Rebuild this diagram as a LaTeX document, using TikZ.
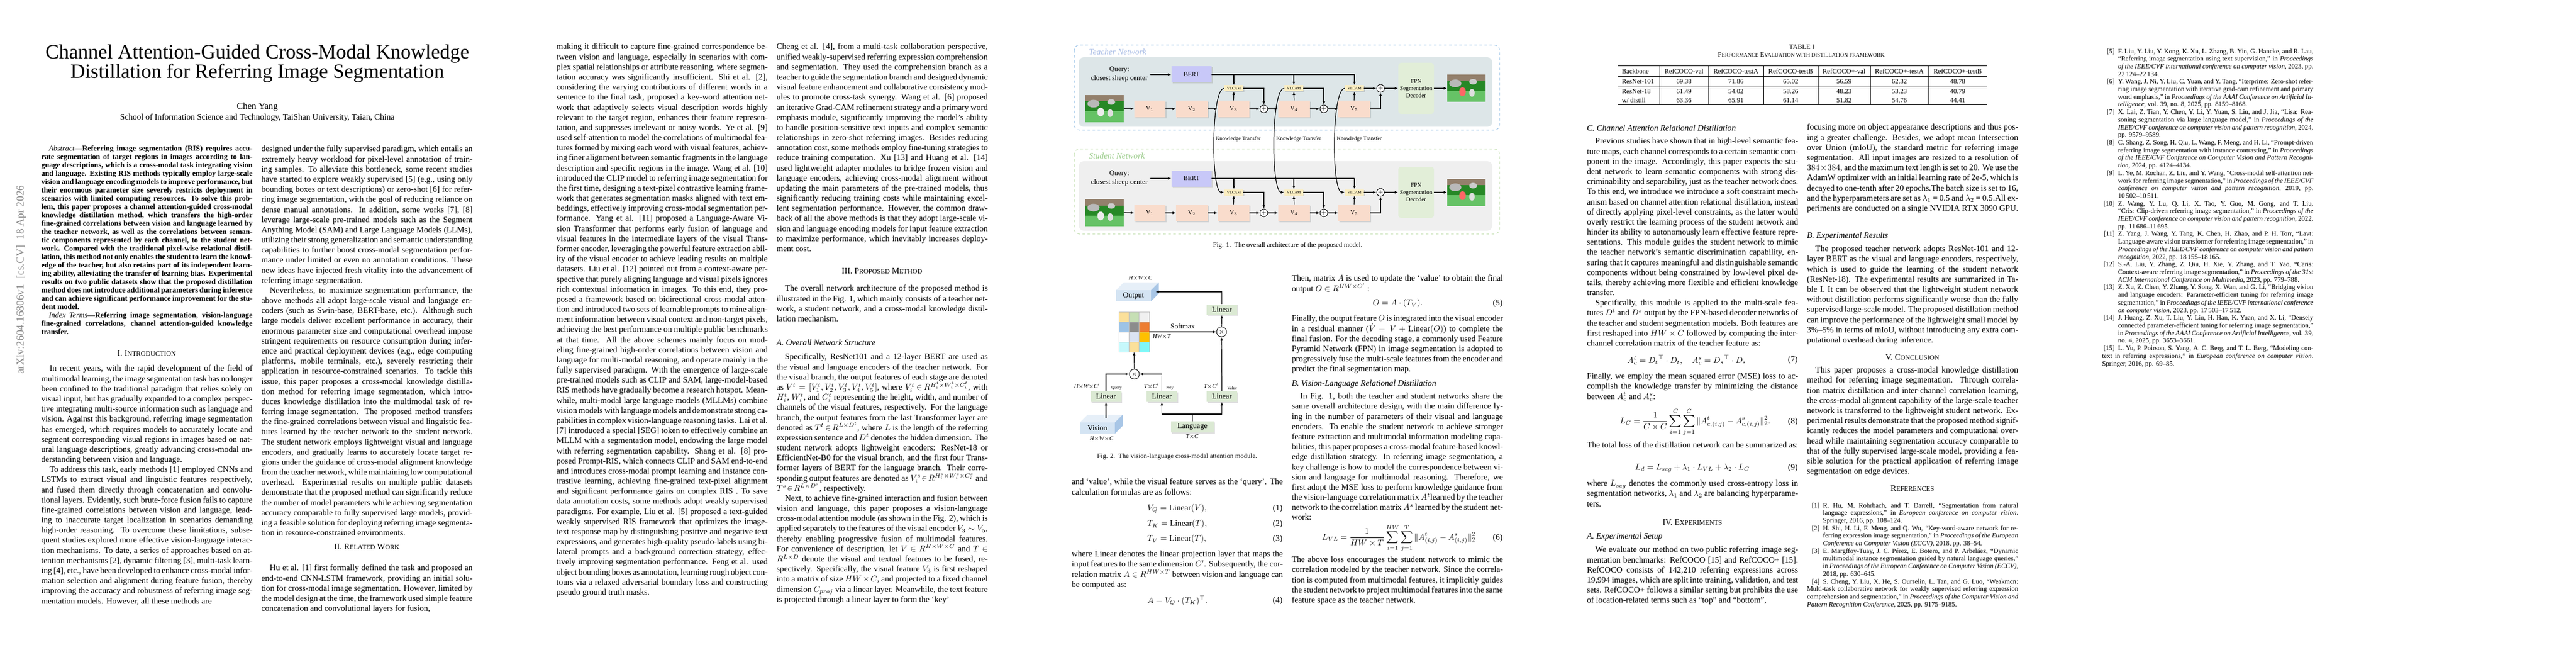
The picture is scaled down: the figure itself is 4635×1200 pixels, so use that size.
\documentclass[tikz,border=0pt]{standalone}
\usepackage{amsmath}
\usepackage{fontspec}
\setmainfont{Liberation Serif}
\usetikzlibrary{arrows.meta,shadows,calc}
\definecolor{tframe}{HTML}{9EC5E8}
\definecolor{tpanel}{HTML}{DDE6E8}
\definecolor{sframe}{HTML}{C9E2B8}
\definecolor{spanel}{HTML}{EFEFEF}
\definecolor{bertc}{HTML}{C8C8F8}
\definecolor{vboxc}{HTML}{F9DCCC}
\definecolor{vlcamc}{HTML}{FBEEC2}
\definecolor{fpnc}{HTML}{E2EED8}
\definecolor{linc}{HTML}{DBE9D3}
\definecolor{cfront}{HTML}{D4E4F3}
\definecolor{cside}{HTML}{A8C6E6}
\definecolor{ctop}{HTML}{E6EFF8}
\definecolor{tlabel}{HTML}{A9BDE6}
\definecolor{slabel}{HTML}{9CCC8C}
\def\u{0.6602pt}
\newcommand\np{\par\hspace*{1em}}
\newcommand\ssc[1]{{\fontsize{8}{12}\selectfont #1}}
\newcommand\rsc[1]{{\fontsize{6.4}{9}\selectfont #1}}
\newcommand\rf[2]{\par\noindent\hangindent=19pt\hangafter=1\makebox[19pt][l]{\hfill[#1]\hspace{4pt}}#2}
\tikzset{
 txt/.style={anchor=north west, inner sep=0pt, text width=250.9pt, align=justify, font=\fontsize{10}{12}\selectfont},
 abst/.style={txt, font=\fontsize{9}{9.9}\selectfont\bfseries},
 reft/.style={txt, font=\fontsize{8}{9.05}\selectfont},
 hd/.style={inner sep=0pt, font=\fontsize{10}{12}\selectfont},
 sub/.style={anchor=west, inner sep=0pt, font=\fontsize{10}{12}\selectfont\itshape},
 eqn/.style={anchor=west, inner sep=0pt, font=\fontsize{10}{12}\selectfont},
 eqc/.style={inner sep=0pt, font=\fontsize{10}{12}\selectfont},
 eqnum/.style={anchor=east, inner sep=0pt, font=\fontsize{10}{12}\selectfont},
 captxt/.style={inner sep=0pt, font=\fontsize{8}{10}\selectfont},
 arr/.style={-{Latex[length=4pt,width=3.2pt]}, line width=0.8pt},
 ln/.style={line width=0.8pt},
 shad/.style={drop shadow={opacity=0.25, shadow xshift=1.2pt, shadow yshift=-1.2pt}},
 vb/.style={fill=vboxc, shad, inner sep=0pt, font=\fontsize{7}{8}\selectfont},
 vl/.style={fill=vlcamc, shad, inner sep=0pt, font=\fontsize{4.5}{5}\selectfont},
 bb/.style={fill=bertc, shad, inner sep=0pt, font=\fontsize{7.5}{8}\selectfont},
 pl/.style={circle, draw, line width=0.6pt, fill=white, inner sep=0pt, minimum size=14*\u, font=\fontsize{7}{7}\selectfont},
 lin/.style={fill=linc, shad, inner sep=0pt, minimum width=55*\u, minimum height=19*\u, font=\fontsize{9}{10}\selectfont},
 dimt/.style={inner sep=0pt, font=\fontsize{7}{8}\selectfont\itshape},
 tinyt/.style={inner sep=0pt, font=\fontsize{5}{6}\selectfont},
 kt/.style={inner sep=0pt, anchor=west, font=\fontsize{6.5}{7}\selectfont},
}
\newcommand\sheep[3]{% cx, cy, colour of lamb
 \begin{scope}[shift={(#1,#2)}]
 \fill[green!45!black!85] (-34.5,-24.5) rectangle (34.5,24.5);
 \fill[gray!70!brown] (-34.5,-24.5) rectangle (34.5,-13);
 \fill[green!60!black!60] (-34.5,5) rectangle (34.5,24.5);
 \fill[gray!55] (-20,-9) ellipse (11 and 7);
 \fill[gray!40] (12,-12) ellipse (7 and 5);
 \fill[#3] (-7,6) ellipse (6 and 8);
 \fill[gray!25] (10,8) ellipse (5 and 7);
 \end{scope}}
\newcommand\netw[1]{% prefix
 \node[font=\fontsize{8.5}{10.5}\selectfont, align=center, inner sep=0pt] (#1q) at (2014,134) {Query:\\closest sheep center};
 \node[bb, minimum width=72*\u, minimum height=29*\u] (#1bert) at (2144,134) {BERT};
 \draw[arr] ([xshift=3pt]#1q.east) -- (#1bert.west);
 \node[minimum width=69*\u, minimum height=49*\u, inner sep=0pt] (#1img) at (1987.5,195.5) {};
 \sheep{1987.5}{195.5}{gray!15}
 \node[vb, minimum width=56*\u, minimum height=30*\u] (#1v1) at (2069,196) {V$_1$};
 \node[vb, minimum width=57*\u, minimum height=30*\u] (#1v2) at (2144.5,196) {V$_2$};
 \node[vb, minimum width=57*\u, minimum height=30*\u] (#1v3) at (2219.5,196) {V$_3$};
 \node[vb, minimum width=57*\u, minimum height=30*\u] (#1v4) at (2328.5,196) {V$_4$};
 \node[vb, minimum width=57*\u, minimum height=30*\u] (#1v5) at (2436.5,196) {V$_5$};
 \node[pl] (#1p1) at (2274,196) {$+$};
 \node[pl] (#1p2) at (2382,196) {$+$};
 \node[pl] (#1p3) at (2484,159) {$+$};
 \node[vl, minimum width=34*\u, minimum height=11*\u] (#1c1) at (2220,159) {VLCAM};
 \node[vl, minimum width=34*\u, minimum height=11*\u] (#1c2) at (2328,159) {VLCAM};
 \node[vl, minimum width=34*\u, minimum height=11*\u] (#1c3) at (2437,159) {VLCAM};
 \node[fill=fpnc, rounded corners=3pt, minimum width=64*\u, minimum height=92*\u, inner sep=0pt, align=center, font=\fontsize{7}{8.4}\selectfont] (#1fpn) at (2548,159) {FPN\\Segmentation\\Decoder};
 \node[minimum width=69*\u, minimum height=48*\u, inner sep=0pt] (#1out) at (2638.5,159) {};
 \sheep{2638.5}{159}{red!60}
 \draw[arr] (#1img.east) -- (#1v1.west);
 \draw[arr] (#1v1.east) -- (#1v2.west);
 \draw[arr] (#1v2.east) -- (#1v3.west);
 \draw[arr] (#1v3.east) -- (#1p1.west);
 \draw[arr] (#1p1.east) -- (#1v4.west);
 \draw[arr] (#1v4.east) -- (#1p2.west);
 \draw[arr] (#1p2.east) -- (#1v5.west);
 \draw[arr] (#1v5.east) -| (#1p3.south);
 \draw[arr] (#1v3.north) -- (#1c1.south);
 \draw[arr] (#1v4.north) -- (#1c2.south);
 \draw[arr] (#1v5.north) -- (#1c3.south);
 \draw[arr] (#1c1.east) -| (#1p1.north);
 \draw[arr] (#1c2.east) -| (#1p2.north);
 \draw[arr] (#1c3.east) -- (#1p3.west);
 \draw[arr] (#1p3.east) -- (#1fpn.west);
 \draw[arr] (#1fpn.east) -- (#1out.west);
 \coordinate (#1bj) at (2437,134);
 \draw[ln] (#1bert.east) -- (#1bj);
 \draw[arr] (#1bj) -- (#1c3.north);
 \draw[arr] (#1c1.north |- #1bj) -- (#1c1.north);
 \draw[arr] (#1c2.north |- #1bj) -- (#1c2.north);
}
\begin{document}
\begin{tikzpicture}[x=0.6602pt, y=-0.6602pt]
\fill[white] (0,0) rectangle (4635,1200);
\useasboundingbox (0,0) rectangle (4635,1200);

% ================= PAGE 1 =================
\node[rotate=90, text=black!45, inner sep=0pt] (arxiv) at (38,503) {\resizebox{224pt}{!}{\fontsize{20}{20}\selectfont arXiv:2604.16806v1\ \ [cs.CV]\ \ 18 Apr 2026}};
\node[inner sep=0pt, font=\fontsize{24}{23}\selectfont, align=center] (title) at (463,114.5) {Channel Attention-Guided Cross-Modal Knowledge\\Distillation for Referring Image Segmentation};
\node[inner sep=0pt, font=\fontsize{11}{12}\selectfont] (author) at (463,193) {Chen Yang};
\node[inner sep=0pt, font=\fontsize{10}{12}\selectfont] (affil) at (463,212) {School of Information Science and Technology, TaiShan University, Taian, China};

\node[abst] (p1a) at (74,262) {\hspace*{1em}{\mdseries\itshape Abstract}---Referring image segmentation (RIS) requires accurate segmentation of target regions in images according to language descriptions, which is a cross-modal task integrating vision and language. Existing RIS methods typically employ large-scale vision and language encoding models to improve performance, but their enormous parameter size severely restricts deployment in scenarios with limited computing resources. To solve this problem, this paper proposes a channel attention-guided cross-modal knowledge distillation method, which transfers the high-order fine-grained correlations between vision and language learned by the teacher network, as well as the correlations between semantic components represented by each channel, to the student network. Compared with the traditional pixel-wise relational distillation, this method not only enables the student to learn the knowledge of the teacher, but also retains part of its independent learning ability, alleviating the transfer of learning bias. Experimental results on two public datasets show that the proposed distillation method does not introduce additional parameters during inference and can achieve significant performance improvement for the student model.\np{\mdseries\itshape Index Terms}---Referring image segmentation, vision-language fine-grained correlations, channel attention-guided knowledge transfer.};
\node[hd] (h1) at (264,636) {I. I\ssc{NTRODUCTION}};
\node[txt] (p1b) at (74,657) {\hspace*{1em}In recent years, with the rapid development of the field of multimodal learning, the image segmentation task has no longer been confined to the traditional paradigm that relies solely on visual input, but has gradually expanded to a complex perspective integrating multi-source information such as language and vision. Against this background, referring image segmentation has emerged, which requires models to accurately locate and segment corresponding visual regions in images based on natural language descriptions, greatly advancing cross-modal understanding between vision and language.\np To address this task, early methods [1] employed CNNs and LSTMs to extract visual and linguistic features respectively, and fused them directly through concatenation and convolutional layers. Evidently, such brute-force fusion fails to capture fine-grained correlations between vision and language, leading to inaccurate target localization in scenarios demanding high-order reasoning. To overcome these limitations, subsequent studies explored more effective vision-language interaction mechanisms. To date, a series of approaches based on attention mechanisms [2], dynamic filtering [3], multi-task learning [4], etc., have been developed to enhance cross-modal information selection and alignment during feature fusion, thereby improving the accuracy and robustness of referring image segmentation models. However, all these methods are};
\node[txt] (p1c) at (470,262) {designed under the fully supervised paradigm, which entails an extremely heavy workload for pixel-level annotation of training samples. To alleviate this bottleneck, some recent studies have started to explore weakly supervised [5] (e.g., using only bounding boxes or text descriptions) or zero-shot [6] for referring image segmentation, with the goal of reducing reliance on dense manual annotations. In addition, some works [7], [8] leverage large-scale pre-trained models such as the Segment Anything Model (SAM) and Large Language Models (LLMs), utilizing their strong generalization and semantic understanding capabilities to further boost cross-modal segmentation performance under limited or even no annotation conditions. These new ideas have injected fresh vitality into the advancement of referring image segmentation.\np Nevertheless, to maximize segmentation performance, the above methods all adopt large-scale visual and language encoders (such as Swin-base, BERT-base, etc.). Although such large models deliver excellent performance in accuracy, their enormous parameter size and computational overhead impose stringent requirements on resource consumption during inference and practical deployment devices (e.g., edge computing platforms, mobile terminals, etc.), severely restricting their application in resource-constrained scenarios. To tackle this issue, this paper proposes a cross-modal knowledge distillation method for referring image segmentation, which introduces knowledge distillation into the multimodal task of referring image segmentation. The proposed method transfers the fine-grained correlations between visual and linguistic features learned by the teacher network to the student network. The student network employs lightweight visual and language encoders, and gradually learns to accurately locate target regions under the guidance of cross-modal alignment knowledge from the teacher network, while maintaining low computational overhead. Experimental results on multiple public datasets demonstrate that the proposed method can significantly reduce the number of model parameters while achieving segmentation accuracy comparable to fully supervised large models, providing a feasible solution for deploying referring image segmentation in resource-constrained environments.};
\node[hd] (h2) at (660,984) {II. R\ssc{ELATED} W\ssc{ORK}};
\node[txt] (p1d) at (470,1016) {\hspace*{1em}Hu et al. [1] first formally defined the task and proposed an end-to-end CNN-LSTM framework, providing an initial solution for cross-modal image segmentation. However, limited by the model design at the time, the framework used simple feature concatenation and convolutional layers for fusion,};

% ================= PAGE 2 =================
\node[txt] (p2a) at (1001,78) {making it difficult to capture fine-grained correspondence between vision and language, especially in scenarios with complex spatial relationships or attribute reasoning, where segmentation accuracy was significantly insufficient. Shi et al. [2], considering the varying contributions of different words in a sentence to the final task, proposed a key-word attention network that adaptively selects visual description words highly relevant to the target region, enhances their feature representation, and suppresses irrelevant or noisy words. Ye et al. [9] used self-attention to model the correlations of multimodal features formed by mixing each word with visual features, achieving finer alignment between semantic fragments in the language description and specific regions in the image. Wang et al. [10] introduced the CLIP model to referring image segmentation for the first time, designing a text-pixel contrastive learning framework that generates segmentation masks aligned with text embeddings, effectively improving cross-modal segmentation performance. Yang et al. [11] proposed a Language-Aware Vision Transformer that performs early fusion of language and visual features in the intermediate layers of the visual Transformer encoder, leveraging the powerful feature extraction ability of the visual encoder to achieve leading results on multiple datasets. Liu et al. [12] pointed out from a context-aware perspective that purely aligning language and visual pixels ignores rich contextual information in images. To this end, they proposed a framework based on bidirectional cross-modal attention and introduced two sets of learnable prompts to mine alignment information between visual context and non-target pixels, achieving the best performance on multiple public benchmarks at that time. All the above schemes mainly focus on modeling fine-grained high-order correlations between vision and language for multi-modal reasoning, and operate mainly in the fully supervised paradigm. With the emergence of large-scale pre-trained models such as CLIP and SAM, large-model-based RIS methods have gradually become a research hotspot. Meanwhile, multi-modal large language models (MLLMs) combine vision models with language models and demonstrate strong capabilities in complex vision-language reasoning tasks. Lai et al. [7] introduced a special [SEG] token to effectively combine an MLLM with a segmentation model, endowing the large model with referring segmentation capability. Shang et al. [8] proposed Prompt-RIS, which connects CLIP and SAM end-to-end and introduces cross-modal prompt learning and instance contrastive learning, achieving fine-grained text-pixel alignment and significant performance gains on complex RIS . To save data annotation costs, some methods adopt weakly supervised paradigms. For example, Liu et al. [5] proposed a text-guided weakly supervised RIS framework that optimizes the image-text response map by distinguishing positive and negative text expressions, and generates high-quality pseudo-labels using bilateral prompts and a background correction strategy, effectively improving segmentation performance. Feng et al. used object bounding boxes as annotation, learning rough object contours via a relaxed adversarial boundary loss and constructing pseudo ground truth masks.};
\node[txt] (p2b) at (1397,78) {Cheng et al. [4], from a multi-task collaboration perspective, unified weakly-supervised referring expression comprehension and segmentation. They used the comprehension branch as a teacher to guide the segmentation branch and designed dynamic visual feature enhancement and collaborative consistency modules to promote cross-task synergy. Wang et al. [6] proposed an iterative Grad-CAM refinement strategy and a primary word emphasis module, significantly improving the model's ability to handle position-sensitive text inputs and complex semantic relationships in zero-shot referring images. Besides reducing annotation cost, some methods employ fine-tuning strategies to reduce training computation. Xu [13] and Huang et al. [14] used lightweight adapter modules to bridge frozen vision and language encoders, achieving cross-modal alignment without updating the main parameters of the pre-trained models, thus significantly reducing training costs while maintaining excellent segmentation performance. However, the common drawback of all the above methods is that they adopt large-scale vision and language encoding models for input feature extraction to maximize performance, which inevitably increases deployment cost.};
\node[hd] (h3) at (1587,488) {III. P\ssc{ROPOSED} M\ssc{ETHOD}};
\node[txt] (p2c) at (1397,513) {\hspace*{1em}The overall network architecture of the proposed method is illustrated in the Fig. 1, which mainly consists of a teacher network, a student network, and a cross-modal knowledge distillation mechanism.};
\node[sub] (s3a) at (1397,616) {A. Overall Network Structure};
\node[txt] (p2d) at (1397,636) {\hspace*{1em}Specifically, ResNet101 and a 12-layer BERT are used as the visual and language encoders of the teacher network. For the visual branch, the output features of each stage are denoted as $V^t=[V_1^t,V_2^t,V_3^t,V_4^t,V_5^t]$, where $V_i^t\!\in\! R^{H_i^t\times W_i^t\times C_i^t}$, with $H_i^t$, $W_i^t$, and $C_i^t$ representing the height, width, and number of channels of the visual features, respectively. For the language branch, the output features from the last Transformer layer are denoted as $T^t\!\in\! R^{L\times D^t}$, where $L$ is the length of the referring expression sentence and $D^t$ denotes the hidden dimension. The student network adopts lightweight encoders: ResNet-18 or EfficientNet-B0 for the visual branch, and the first four Transformer layers of BERT for the language branch. Their corresponding output features are denoted as $V_i^s\!\in\! R^{H_i^s\times W_i^s\times C_i^s}$ and $T^s\!\in\! R^{L\times D^s}$, respectively.\np Next, to achieve fine-grained interaction and fusion between vision and language, this paper proposes a vision-language cross-modal attention module (as shown in the Fig. 2), which is applied separately to the features of the visual encoder $V_3\sim V_5$, thereby enabling progressive fusion of multimodal features. For convenience of description, let $V\!\in\! R^{H\times W\times C}$ and $T\!\in\! R^{L\times D}$ denote the visual and textual features to be fused, respectively. Specifically, the visual feature $V_3$ is first reshaped into a matrix of size $HW\times C$, and projected to a fixed channel dimension $C_{proj}$ via a linear layer. Meanwhile, the text feature is projected through a linear layer to form the `key'};

% ================= PAGE 3 : Fig. 1 =================
\draw[tframe, dashed, line width=0.7pt, rounded corners=6pt] (1933,81) rectangle (2698,234);
\fill[tpanel, rounded corners=6pt] (1941,103) rectangle (2685,228);
\node[anchor=west, inner sep=0pt, text=tlabel, font=\fontsize{10}{11}\selectfont\itshape] (tlab) at (1959,93) {Teacher Network};
\draw[sframe, dashed, line width=0.7pt, rounded corners=6pt] (1933,268) rectangle (2698,421);
\fill[spanel, rounded corners=6pt] (1941,290) rectangle (2685,415);
\node[anchor=west, inner sep=0pt, text=slabel, font=\fontsize{10}{11}\selectfont\itshape] (slab) at (1959,280) {Student Network};
\netw{t}
\begin{scope}[yshift=-123.46pt]
\netw{s}
\end{scope}
\draw[arr] (tc1.west) to[out=180, in=180, looseness=0.33] (sc1.west);
\draw[arr] (tc2.west) to[out=180, in=180, looseness=0.33] (sc2.west);
\draw[arr] (tc3.west) to[out=180, in=180, looseness=0.33] (sc3.west);
\node[kt] (kt1) at (2187,250) {Knowledge Transfer};
\node[kt] (kt2) at (2296,250) {Knowledge Transfer};
\node[kt] (kt3) at (2405,250) {Knowledge Transfer};
\node[captxt] (fig1cap) at (2317,442) {Fig. 1.\ \ The overall architecture of the proposed model.};

% ================= PAGE 3 : Fig. 2 =================
\fill[ctop] (2008,522) -- (2022,508) -- (2085,508) -- (2071,522) -- cycle;
\fill[cside] (2071,522) -- (2085,508) -- (2085,528) -- (2071,542) -- cycle;
\node[fill=cfront, minimum width=63*\u, minimum height=20*\u, inner sep=0pt, font=\fontsize{9}{10}\selectfont] (outp) at (2039.5,532) {Output};
\node[dimt] (d1) at (2052,501) {H$\times$W$\times$C};
\node[minimum width=55*\u, minimum height=72*\u, inner sep=0pt] (mat) at (2040.5,597) {};
\foreach \c [count=\i from 0] in {FBE09A,C6DFB4,F0F0F0,9DC3E6,8C8C8C,ED7D31,FFFFFF,DAE3F3,FFC000,C6F8FB,FBE09A,7FF7F7}{
  \pgfmathtruncatemacro\cc{mod(\i,3)}
  \pgfmathtruncatemacro\rr{int(\i/3)}
  \definecolor{cellc}{HTML}{\c}
  \fill[cellc, draw=black!25, line width=0.3pt] ({2013+\cc*18.33},{561+\rr*18}) rectangle ++(18.33,18);
}
\node[lin] (lin4) at (2198.5,557) {Linear};
\node[pl, minimum size=18*\u, font=\fontsize{8}{8}\selectfont] (m2) at (2198,597) {$\times$};
\node[pl, minimum size=18*\u, font=\fontsize{8}{8}\selectfont] (m1) at (2041,673) {$\times$};
\node[lin] (linq) at (1990,713.5) {Linear};
\node[lin] (link) at (2090.5,713.5) {Linear};
\node[lin] (linv) at (2198.5,713.5) {Linear};
\fill[ctop] (1943,760) -- (1957,746) -- (2020,746) -- (2006,760) -- cycle;
\fill[cside] (2006,760) -- (2020,746) -- (2020,766) -- (2006,780) -- cycle;
\node[fill=cfront, minimum width=63*\u, minimum height=20*\u, inner sep=0pt, font=\fontsize{9}{10}\selectfont] (vis) at (1974.5,770) {Vision};
\node[dimt] (d2) at (1982,790) {H$\times$W$\times$C};
\node[lin, minimum width=77*\u, minimum height=20*\u] (lang) at (2145.5,768) {Language};
\node[dimt] (d3) at (2145,786) {T$\times$C};
\node[inner sep=0pt, font=\fontsize{8.5}{9}\selectfont] (smx) at (2128,587) {Softmax};
\node[dimt] (d4) at (2090,606) {HW$\times$T};
\node[dimt] (d5) at (1956,695) {H$\times$W$\times$C$'$};
\node[tinyt] (q1) at (2009,698) {Query};
\node[dimt] (d6) at (2072,695) {T$\times$C$'$};
\node[tinyt] (k1) at (2105,698) {Key};
\node[dimt] (d7) at (2179,695) {T$\times$C$'$};
\node[tinyt] (v1) at (2217,698) {Value};
\coordinate (outside) at (2079,525);
\coordinate (vistop) at (1990,752);
\coordinate (lj) at (2145.5,745);
\draw[arr] (lin4.north) |- (outside);
\draw[arr] (m2.north) -- (lin4.south);
\draw[arr] (mat.east) -- (m2.west);
\draw[arr] (linv.north) -- (m2.south);
\draw[arr] (m1.north) -- (mat.south);
\draw[arr] (linq.north) |- (m1.west);
\draw[arr] (link.north) |- (m1.east);
\draw[arr] (vistop) -- (linq.south);
\draw[ln] (lang.north) -- (lj);
\draw[arr] (lj) -| (link.south);
\draw[arr] (lj) -| (linv.south);
\node[captxt] (fig2cap) at (2118,822) {Fig. 2.\ \ The vision-language cross-modal attention module.};

% ================= PAGE 3 text =================
\node[txt] (p3a) at (1928,861) {and `value', while the visual feature serves as the `query'. The calculation formulas are as follows:};
\node[eqn] (e1) at (2064,915) {$V_Q=\mathrm{Linear}(V),$};
\node[eqnum] (n1) at (2308,915) {(1)};
\node[eqn] (e2) at (2064,943) {$T_K=\mathrm{Linear}(T),$};
\node[eqnum] (n2) at (2308,943) {(2)};
\node[eqn] (e3) at (2064,970) {$T_V=\mathrm{Linear}(T),$};
\node[eqnum] (n3) at (2308,970) {(3)};
\node[txt] (p3b) at (1928,991) {where Linear denotes the linear projection layer that maps the input features to the same dimension $C'$. Subsequently, the correlation matrix $A\in R^{HW\times T}$ between vision and language can be computed as:};
\node[eqn] (e4) at (2064,1081) {$A=V_Q\cdot(T_K)^{\top}.$};
\node[eqnum] (n4) at (2308,1081) {(4)};

\node[txt] (p3c) at (2324,495) {Then, matrix $A$ is used to update the `value' to obtain the final output $O\in R^{HW\times C'}$ :};
\node[eqc] (e5) at (2515,546) {$O=A\cdot(T_V).$};
\node[eqnum] (n5) at (2704,546) {(5)};
\node[txt] (p3d) at (2324,567) {Finally, the output feature $O$ is integrated into the visual encoder in a residual manner ($\dot V\!=V+\mathrm{Linear}(O)$) to complete the final fusion. For the decoding stage, a commonly used Feature Pyramid Network (FPN) in image segmentation is adopted to progressively fuse the multi-scale features from the encoder and predict the final segmentation map.};
\node[sub] (s3b) at (2324,691) {B. Vision-Language Relational Distillation};
\node[txt] (p3e) at (2324,707) {\hspace*{1em}In Fig. 1, both the teacher and student networks share the same overall architecture design, with the main difference lying in the number of parameters of their visual and language encoders. To enable the student network to achieve stronger feature extraction and multimodal information modeling capabilities, this paper proposes a cross-modal feature-based knowledge distillation strategy. In referring image segmentation, a key challenge is how to model the correspondence between vision and language for multimodal reasoning. Therefore, we first adopt the MSE loss to perform knowledge guidance from the vision-language correlation matrix $A^t$learned by the teacher network to the correlation matrix $A^s$ learned by the student network:};
\node[eqc] (e6) at (2517,968) {$\displaystyle L_{VL}=\frac{1}{HW\times T}\sum_{i=1}^{HW}\sum_{j=1}^{T}\|A^t_{(i,j)}-A^s_{(i,j)}\|_2^2$};
\node[eqnum] (n6) at (2704,968) {(6)};
\node[txt] (p3f) at (2324,1001) {The above loss encourages the student network to mimic the correlation modeled by the teacher network. Since the correlation is computed from multimodal features, it implicitly guides the student network to project multimodal features into the same feature space as the teacher network.};

% ================= PAGE 4 =================
\node[captxt] (tabt) at (3242,85) {TABLE I};
\node[captxt] (tabc) at (3242,99) {P\rsc{ERFORMANCE} E\rsc{VALUATION WITH DISTILLATION FRAMEWORK.}};
\draw[line width=0.6pt] (2911,118) -- (3575,118);
\draw[line width=0.4pt] (2911,137) -- (3575,137);
\draw[line width=0.4pt] (2911,156) -- (3575,156);
\draw[line width=0.6pt] (2911,188) -- (3575,188);
\foreach \x in {2986,3074,3173,3271,3365,3470} \draw[line width=0.4pt] (\x,118) -- (\x,188);
\node[captxt, anchor=west] (b0) at (2918,128) {Backbone};
\node[captxt, anchor=west] (b1) at (2918,146.5) {ResNet-101};
\node[captxt, anchor=west] (b2) at (2918,165) {ResNet-18};
\node[captxt, anchor=west] (b3) at (2918,180.5) {w/ distill};
\foreach \t/\xc in {RefCOCO-val/3030,RefCOCO-testA/3123.5,RefCOCO-testB/3222,RefCOCO+-val/3318,RefCOCO+-testA/3417.5,RefCOCO+-testB/3522.5}
  \node[captxt] at (\xc,128) {\t};
\foreach \t/\xc in {69.38/3030,71.86/3123.5,65.02/3222,56.59/3318,62.32/3417.5,48.78/3522.5}
  \node[captxt] at (\xc,146.5) {\t};
\foreach \t/\xc in {61.49/3030,54.02/3123.5,58.26/3222,48.23/3318,53.23/3417.5,40.79/3522.5}
  \node[captxt] at (\xc,165) {\t};
\foreach \t/\xc in {63.36/3030,65.91/3123.5,61.14/3222,51.82/3318,54.76/3417.5,44.41/3522.5}
  \node[captxt] at (\xc,180.5) {\t};

\node[sub] (s3c) at (2855,230) {C. Channel Attention Relational Distillation};
\node[txt] (p4a) at (2855,248) {\hspace*{1em}Previous studies have shown that in high-level semantic feature maps, each channel corresponds to a certain semantic component in the image. Accordingly, this paper expects the student network to learn semantic components with strong discriminability and separability, just as the teacher network does. To this end, we introduce we introduce a soft constraint mechanism based on channel attention relational distillation, instead of directly applying pixel-level constraints, as the latter would overly restrict the learning process of the student network and hinder its ability to autonomously learn effective feature representations. This module guides the student network to mimic the teacher network's semantic discrimination capability, ensuring that it captures meaningful and distinguishable semantic components without being constrained by low-level pixel details, thereby achieving more flexible and efficient knowledge transfer.\np Specifically, this module is applied to the multi-scale features $D^t$ and $D^s$ output by the FPN-based decoder networks of the teacher and student segmentation models. Both features are first reshaped into $HW\times C$ followed by computing the inter-channel correlation matrix of the teacher feature as:};
\node[eqc] (e7) at (3035,648) {$A_c^t={D_t}^{\top}\cdot D_t,\quad A_c^s={D_s}^{\top}\cdot D_s$};
\node[eqnum] (n7) at (3235,648) {(7)};
\node[txt] (p4b) at (2855,671) {Finally, we employ the mean squared error (MSE) loss to accomplish the knowledge transfer by minimizing the distance between $A_c^t$ and $A_c^s$:};
\node[eqc] (e8) at (3050,759) {$\displaystyle L_C=\frac{1}{C\times C}\sum_{i=1}^{C}\sum_{j=1}^{C}\|A^t_{c,(i,j)}-A^s_{c,(i,j)}\|_2^2.$};
\node[eqnum] (n8) at (3235,759) {(8)};
\node[txt] (p4c) at (2855,795) {The total loss of the distillation network can be summarized as:};
\node[eqc] (e9) at (3045,842) {$L_d=L_{seg}+\lambda_1\cdot L_{VL}+\lambda_2\cdot L_C$};
\node[eqnum] (n9) at (3235,842) {(9)};
\node[txt] (p4d) at (2855,864) {where $L_{seg}$ denotes the commonly used cross-entropy loss in segmentation networks, $\lambda_1$ and $\lambda_2$ are balancing hyperparameters.};
\node[hd] (h4) at (3045,940) {IV. E\ssc{XPERIMENTS}};
\node[sub] (s4a) at (2855,966) {A. Experimental Setup};
\node[txt] (p4e) at (2855,983) {\hspace*{1em}We evaluate our method on two public referring image segmentation benchmarks: RefCOCO [15] and RefCOCO+ [15]. RefCOCO consists of 142,210 referring expressions across 19,994 images, which are split into training, validation, and test sets. RefCOCO+ follows a similar setting but prohibits the use of location-related terms such as ``top'' and ``bottom'',};

\node[txt] (p4f) at (3251,223) {focusing more on object appearance descriptions and thus posing a greater challenge. Besides, we adopt mean Intersection over Union (mIoU), the standard metric for referring image segmentation. All input images are resized to a resolution of $384\times384$, and the maximum text length is set to 20. We use the AdamW optimizer with an initial learning rate of 2e-5, which is decayed to one-tenth after 20 epochs.The batch size is set to 16, and the hyperparameters are set as $\lambda_1$ = 0.5 and $\lambda_2$ = 0.5.All experiments are conducted on a single NVIDIA RTX 3090 GPU.};
\node[sub] (s4b) at (3251,425) {B. Experimental Results};
\node[txt] (p4g) at (3251,442) {\hspace*{1em}The proposed teacher network adopts ResNet-101 and 12-layer BERT as the visual and language encoders, respectively, which is used to guide the learning of the student network (ResNet-18). The experimental results are summarized in Table I. It can be observed that the lightweight student network without distillation performs significantly worse than the fully supervised large-scale model. The proposed distillation method can improve the performance of the lightweight small model by 3\%--5\% in terms of mIoU, without introducing any extra computational overhead during inference.};
\node[hd] (h5) at (3441,643) {V. C\ssc{ONCLUSION}};
\node[txt] (p4h) at (3251,660) {\hspace*{1em}This paper proposes a cross-modal knowledge distillation method for referring image segmentation. Through correlation matrix distillation and inter-channel correlation learning, the cross-modal alignment capability of the large-scale teacher network is transferred to the lightweight student network. Experimental results demonstrate that the proposed method significantly reduces the model parameters and computational overhead while maintaining segmentation accuracy comparable to that of the fully supervised large-scale model, providing a feasible solution for the practical application of referring image segmentation on edge devices.};
\node[hd] (h6) at (3441,879) {R\ssc{EFERENCES}};
\node[reft] (r1) at (3251,899) {\rf{1}{R. Hu, M. Rohrbach, and T. Darrell, ``Segmentation from natural language expressions,'' in \textit{European conference on computer vision}. Springer, 2016, pp. 108--124.}
\rf{2}{H. Shi, H. Li, F. Meng, and Q. Wu, ``Key-word-aware network for referring expression image segmentation,'' in \textit{Proceedings of the European Conference on Computer Vision (ECCV)}, 2018, pp. 38--54.}
\rf{3}{E. Margffoy-Tuay, J. C. Pérez, E. Botero, and P. Arbeláez, ``Dynamic multimodal instance segmentation guided by natural language queries,'' in \textit{Proceedings of the European Conference on Computer Vision (ECCV)}, 2018, pp. 630--645.}
\rf{4}{S. Cheng, Y. Liu, X. He, S. Ourselin, L. Tan, and G. Luo, ``Weakmcn: Multi-task collaborative network for weakly supervised referring expression comprehension and segmentation,'' in \textit{Proceedings of the Computer Vision and Pattern Recognition Conference}, 2025, pp. 9175--9185.}};

% ================= PAGE 5 =================
\node[reft] (r2) at (3782,82) {\rf{5}{F. Liu, Y. Liu, Y. Kong, K. Xu, L. Zhang, B. Yin, G. Hancke, and R. Lau, ``Referring image segmentation using text supervision,'' in \textit{Proceedings of the IEEE/CVF international conference on computer vision}, 2023, pp. 22\,124--22\,134.}
\rf{6}{Y. Wang, J. Ni, Y. Liu, C. Yuan, and Y. Tang, ``Iterprime: Zero-shot referring image segmentation with iterative grad-cam refinement and primary word emphasis,'' in \textit{Proceedings of the AAAI Conference on Artificial Intelligence}, vol. 39, no. 8, 2025, pp. 8159--8168.}
\rf{7}{X. Lai, Z. Tian, Y. Chen, Y. Li, Y. Yuan, S. Liu, and J. Jia, ``Lisa: Reasoning segmentation via large language model,'' in \textit{Proceedings of the IEEE/CVF conference on computer vision and pattern recognition}, 2024, pp. 9579--9589.}
\rf{8}{C. Shang, Z. Song, H. Qiu, L. Wang, F. Meng, and H. Li, ``Prompt-driven referring image segmentation with instance contrasting,'' in \textit{Proceedings of the IEEE/CVF Conference on Computer Vision and Pattern Recognition}, 2024, pp. 4124--4134.}
\rf{9}{L. Ye, M. Rochan, Z. Liu, and Y. Wang, ``Cross-modal self-attention network for referring image segmentation,'' in \textit{Proceedings of the IEEE/CVF conference on computer vision and pattern recognition}, 2019, pp. 10\,502--10\,511.}
\rf{10}{Z. Wang, Y. Lu, Q. Li, X. Tao, Y. Guo, M. Gong, and T. Liu, ``Cris: Clip-driven referring image segmentation,'' in \textit{Proceedings of the IEEE/CVF conference on computer vision and pattern recognition}, 2022, pp. 11\,686--11\,695.}
\rf{11}{Z. Yang, J. Wang, Y. Tang, K. Chen, H. Zhao, and P. H. Torr, ``Lavt: Language-aware vision transformer for referring image segmentation,'' in \textit{Proceedings of the IEEE/CVF conference on computer vision and pattern recognition}, 2022, pp. 18\,155--18\,165.}
\rf{12}{S.-A. Liu, Y. Zhang, Z. Qiu, H. Xie, Y. Zhang, and T. Yao, ``Caris: Context-aware referring image segmentation,'' in \textit{Proceedings of the 31st ACM International Conference on Multimedia}, 2023, pp. 779--788.}
\rf{13}{Z. Xu, Z. Chen, Y. Zhang, Y. Song, X. Wan, and G. Li, ``Bridging vision and language encoders: Parameter-efficient tuning for referring image segmentation,'' in \textit{Proceedings of the IEEE/CVF international conference on computer vision}, 2023, pp. 17\,503--17\,512.}
\rf{14}{J. Huang, Z. Xu, T. Liu, Y. Liu, H. Han, K. Yuan, and X. Li, ``Densely connected parameter-efficient tuning for referring image segmentation,'' in \textit{Proceedings of the AAAI Conference on Artificial Intelligence}, vol. 39, no. 4, 2025, pp. 3653--3661.}
\rf{15}{L. Yu, P. Poirson, S. Yang, A. C. Berg, and T. L. Berg, ``Modeling context in referring expressions,'' in \textit{European conference on computer vision}.\ \ Springer, 2016, pp. 69--85.}};
\end{tikzpicture}
\end{document}
